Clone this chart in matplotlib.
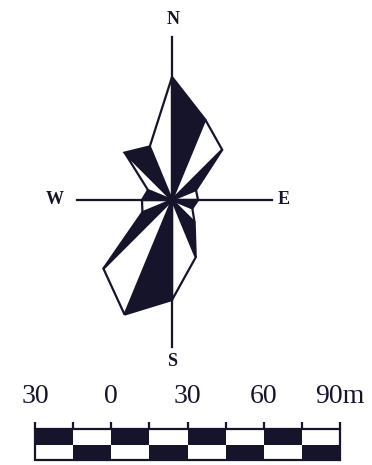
import matplotlib
matplotlib.use("Agg")
import matplotlib.pyplot as plt
import numpy as np
from matplotlib.patches import Polygon, Rectangle

# Rose diagram: 16 compass directions, petal length per direction
BEARINGS = np.arange(0, 360, 22.5)
LENGTHS = [12.3, 8.7, 7.1, 2.6, 2.6, 2.2, 3.2, 6.2,
           10.0, 12.4, 9.7, 3.2, 3.0, 2.6, 6.7, 5.8]

# how far the compass cross reaches from the centre
AXIS_REACH = {"N": 16.3, "S": 14.7, "W": 9.5, "E": 10.0}

# scale bar (metres)
SCALE_TICKS = [-30, -15, 0, 15, 30, 45, 60, 75, 90]
SCALE_LABEL_POS = [-30, 0, 30, 60, 90]
SCALE_LABELS = ["30", "0", "30", "60", "90m"]

INK = "#16142a"
SERIF = ["Liberation Serif", "DejaVu Serif"]

fig = plt.figure(figsize=(3.72, 4.65), dpi=100)
fig.patch.set_facecolor("white")

# --- rose -------------------------------------------------------------
ax = fig.add_axes([0, 0, 1, 1])
ax.set_xlim(-17.2, 20.0)
ax.set_ylim(-26.5, 20.0)
ax.axis("off")

theta = np.deg2rad(BEARINGS)
r = np.asarray(LENGTHS)
xs = r * np.sin(theta)
ys = r * np.cos(theta)
n = len(r)
for i in range(n):
    j = (i + 1) % n
    tri = [(0, 0), (xs[i], ys[i]), (xs[j], ys[j])]
    fc = INK if i % 2 == 0 else "white"
    ax.add_patch(Polygon(tri, closed=True, facecolor=fc, edgecolor=INK,
                         lw=1.6, joinstyle="miter", zorder=2))

ax.plot([0, 0], [-AXIS_REACH["S"], AXIS_REACH["N"]], color=INK, lw=1.6, zorder=3)
ax.plot([-AXIS_REACH["W"], AXIS_REACH["E"]], [0, 0], color=INK, lw=1.6, zorder=3)

lbl = dict(ha="center", va="center", fontsize=13, fontweight="bold",
           family=SERIF, color=INK)
ax.text(0.1, AXIS_REACH["N"] + 1.7, "N", **lbl)
ax.text(0, -AXIS_REACH["S"] - 1.5, "S", **lbl)
ax.text(-AXIS_REACH["W"] - 2.2, 0, "W", **lbl)
ax.text(AXIS_REACH["E"] + 1.2, 0, "E", **lbl)

# --- scale bar --------------------------------------------------------
sax = fig.add_axes([35 / 372, 0, 305 / 372, 85 / 465])
sax.set_xlim(SCALE_TICKS[0], SCALE_TICKS[-1])
sax.set_ylim(465, 380)
sax.axis("off")

for k in range(len(SCALE_TICKS) - 1):
    x0 = SCALE_TICKS[k]
    w = SCALE_TICKS[k + 1] - x0
    sax.add_patch(Rectangle((x0, 429), w, 16,
                            facecolor=INK if k % 2 == 0 else "white",
                            edgecolor="none", clip_on=False))
    sax.add_patch(Rectangle((x0, 445), w, 15,
                            facecolor=INK if k % 2 == 1 else "white",
                            edgecolor="none", clip_on=False))
sax.add_patch(Rectangle((SCALE_TICKS[0], 429), SCALE_TICKS[-1] - SCALE_TICKS[0], 31,
                        fill=False, edgecolor=INK, lw=1.6, clip_on=False))
sax.vlines(SCALE_TICKS, 422, 429, color=INK, lw=1.6, clip_on=False)

for pos, txt in zip(SCALE_LABEL_POS, SCALE_LABELS):
    sax.text(pos, 396, txt, ha="center", va="center", fontsize=20,
             family=SERIF, color=INK, clip_on=False)

fig.savefig("out.png", dpi=100, facecolor="white")
